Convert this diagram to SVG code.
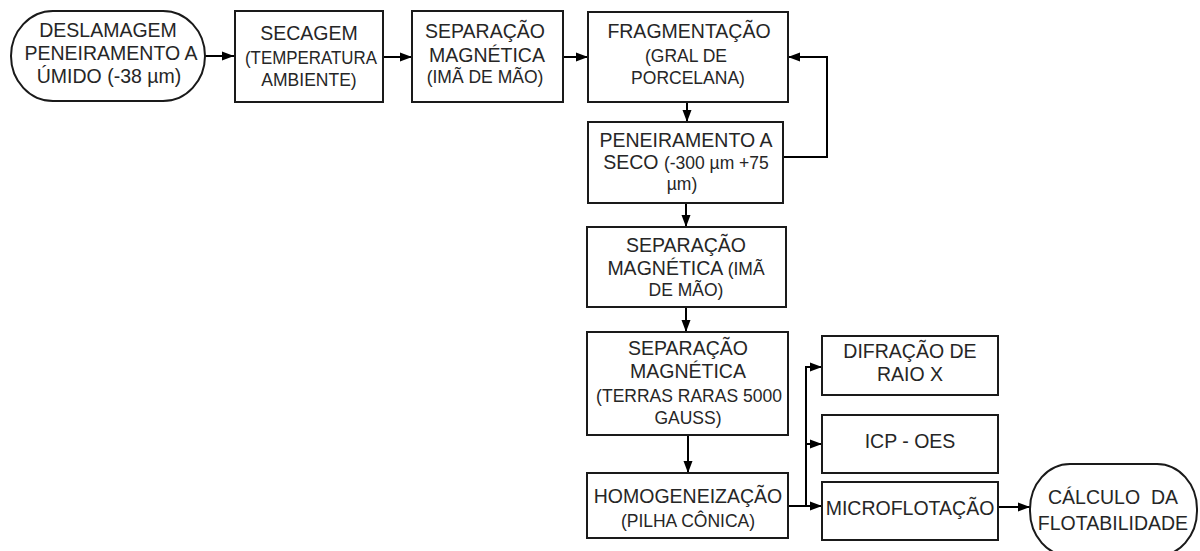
<svg xmlns="http://www.w3.org/2000/svg" width="1200" height="551" viewBox="0 0 1200 551">
<defs>
<style>
.box{fill:#fff;stroke:#1a1a1a;stroke-width:2}
.t{font-family:"Liberation Sans",Arial,sans-serif;font-size:19.5px;fill:#262626;text-anchor:middle}
.s{font-size:17.5px}
.c{fill:none;stroke:#000;stroke-width:2}
</style>
<marker id="ah" viewBox="0 0 12 10" refX="12" refY="5" markerWidth="12" markerHeight="10" markerUnits="userSpaceOnUse" orient="auto">
<path d="M0,0.5 L12,5 L0,9.5 Z" fill="#000"/>
</marker>
</defs>
<rect width="1200" height="551" fill="#fff"/>
<g id="connectors">
<line class="c" x1="205" y1="56" x2="234" y2="56" marker-end="url(#ah)"/>
<line class="c" x1="383" y1="57" x2="412" y2="57" marker-end="url(#ah)"/>
<line class="c" x1="563" y1="57" x2="588" y2="57" marker-end="url(#ah)"/>
<line class="c" x1="687" y1="102" x2="687" y2="122" marker-end="url(#ah)"/>
<polyline class="c" points="783,157 827,157 827,57 788,57" marker-end="url(#ah)"/>
<line class="c" x1="686" y1="203" x2="686" y2="227" marker-end="url(#ah)"/>
<line class="c" x1="686" y1="307" x2="686" y2="332" marker-end="url(#ah)"/>
<line class="c" x1="688" y1="435" x2="688" y2="473" marker-end="url(#ah)"/>
<polyline class="c" points="788,506 822,506" marker-end="url(#ah)"/>
<line class="c" x1="806" y1="506" x2="806" y2="366"/>
<line class="c" x1="805" y1="367" x2="822" y2="367" marker-end="url(#ah)"/>
<line class="c" x1="805" y1="444" x2="822" y2="444" marker-end="url(#ah)"/>
<line class="c" x1="998" y1="507" x2="1030" y2="507" marker-end="url(#ah)"/>
</g>
<g id="n1">
<rect class="box" x="11" y="11" width="194" height="90" rx="42" ry="45"/>
<text class="t" x="108" y="37">DESLAMAGEM</text>
<text class="t" x="111" y="60">PENEIRAMENTO A</text>
<text class="t" x="109" y="83">ÚMIDO (-38 µm)</text>
</g>
<g id="n2">
<rect class="box" x="235" y="11" width="148" height="91"/>
<text class="t" x="309" y="40">SECAGEM</text>
<text class="t s" x="311" y="64" textLength="132" lengthAdjust="spacingAndGlyphs">(TEMPERATURA</text>
<text class="t s" x="309" y="86">AMBIENTE)</text>
</g>
<g id="n3">
<rect class="box" x="412" y="11" width="151" height="91"/>
<text class="t" x="485" y="38">SEPARAÇÃO</text>
<text class="t" x="487" y="62">MAGNÉTICA</text>
<text class="t s" x="485" y="83">(IMÃ DE MÃO)</text>
</g>
<g id="n4">
<rect class="box" x="588" y="12" width="200" height="90"/>
<text class="t" x="689" y="38">FRAGMENTAÇÃO</text>
<text class="t s" x="686" y="62">(GRAL DE</text>
<text class="t s" x="688" y="84">PORCELANA)</text>
</g>
<g id="n5">
<rect class="box" x="588" y="122" width="195" height="81"/>
<text class="t" x="686" y="147">PENEIRAMENTO A</text>
<text class="t" x="686" y="169">SECO <tspan class="s">(-300 µm +75</tspan></text>
<text class="t s" x="682" y="190">µm)</text>
</g>
<g id="n6">
<rect class="box" x="587" y="227" width="199" height="80"/>
<text class="t" x="686" y="252">SEPARAÇÃO</text>
<text class="t" x="686" y="275">MAGNÉTICA <tspan class="s">(IMÃ</tspan></text>
<text class="t s" x="686" y="296">DE MÃO)</text>
</g>
<g id="n7">
<rect class="box" x="587" y="332" width="201" height="103"/>
<text class="t" x="688" y="355">SEPARAÇÃO</text>
<text class="t" x="688" y="378">MAGNÉTICA</text>
<text class="t s" x="689" y="402">(TERRAS RARAS 5000</text>
<text class="t s" x="688" y="424">GAUSS)</text>
</g>
<g id="n8">
<rect class="box" x="587" y="473" width="201" height="65"/>
<text class="t" x="688" y="503">HOMOGENEIZAÇÃO</text>
<text class="t s" x="688" y="527">(PILHA CÔNICA)</text>
</g>
<g id="n9">
<rect class="box" x="822" y="336" width="176" height="59"/>
<text class="t" x="910" y="358">DIFRAÇÃO DE</text>
<text class="t" x="910" y="381">RAIO X</text>
</g>
<g id="n10">
<rect class="box" x="822" y="415" width="176" height="58"/>
<text class="t" x="910" y="448">ICP - OES</text>
</g>
<g id="n11">
<rect class="box" x="822" y="482" width="176" height="58"/>
<text class="t" x="910" y="515">MICROFLOTAÇÃO</text>
</g>
<g id="n12">
<rect class="box" x="1030" y="464" width="167" height="92" rx="40" ry="45"/>
<text class="t" x="1113" y="504" xml:space="preserve">CÁLCULO  DA</text>
<text class="t" x="1113" y="530">FLOTABILIDADE</text>
</g>
</svg>
